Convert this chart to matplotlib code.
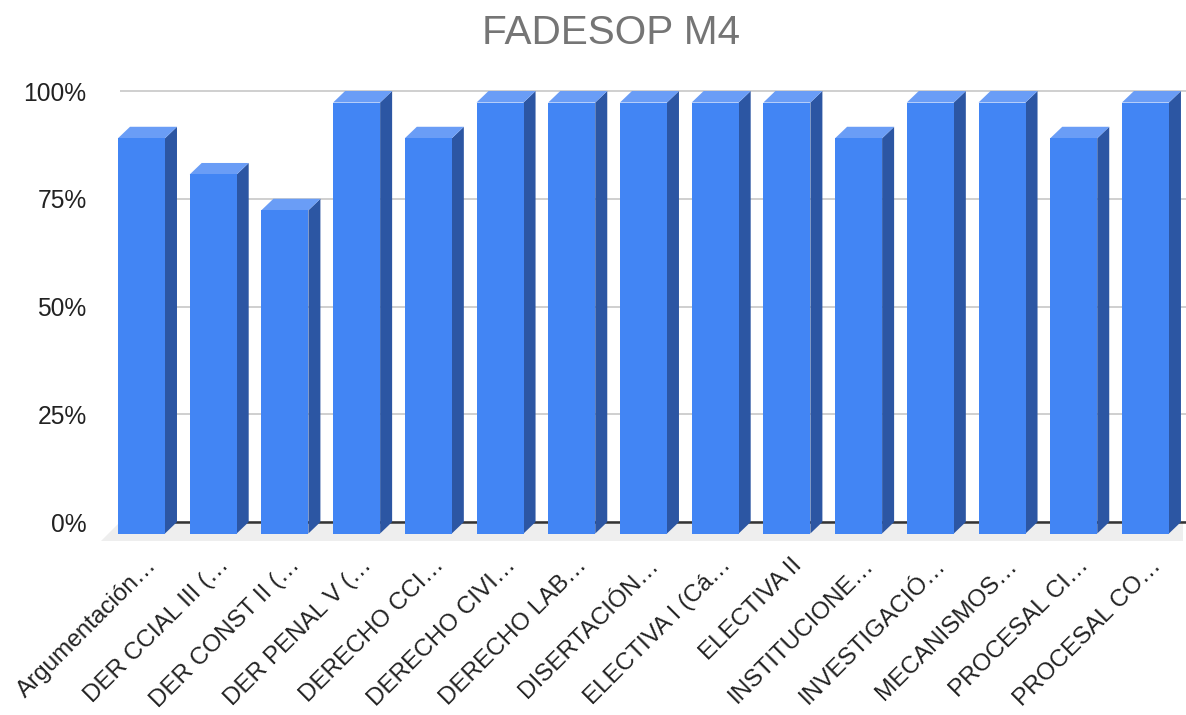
import matplotlib
matplotlib.use("Agg")
import matplotlib.pyplot as plt
from matplotlib.patches import Polygon
from matplotlib.ticker import PercentFormatter

# ---- data ----
categories = ["Argumentación…", "DER CCIAL III (…", "DER CONST II (…", "DER PENAL V (…",
              "DERECHO CCI…", "DERECHO CIVI…", "DERECHO LAB…", "DISERTACIÓN…",
              "ELECTIVA I (Cá…", "ELECTIVA II", "INSTITUCIONE…", "INVESTIGACIÓ…",
              "MECANISMOS…", "PROCESAL CI…", "PROCESAL CO…"]
values = [0.917, 0.833, 0.75, 1.0, 0.917, 1.0, 1.0, 1.0, 1.0, 1.0, 0.917, 1.0, 1.0, 0.917, 1.0]
yticks = [0, 0.25, 0.5, 0.75, 1.0]
title = "FADESOP M4"

# ---- style ----
FRONT = "#4285F4"
SIDE = "#2C56A3"
TOP = "#6A9DF6"
FLOOR = "#EEEEEE"
W, H, DPI = 1186, 715, 100
plt.rcParams['font.family'] = ['Liberation Sans', 'DejaVu Sans']

fig = plt.figure(figsize=(W / DPI, H / DPI), dpi=DPI)
# axes in pixel layout
ax_l, ax_r = 120, 1186
ax_t, ax_b = 78.07, 543.55
ax = fig.add_axes([ax_l / W, (H - ax_b) / H, (ax_r - ax_l) / W, (ax_b - ax_t) / H])
ax.set_xlim(-0.467, 14.398)
ax.set_ylim(-0.05, 1.03)

# pixel -> data conversions for depth offsets
p0 = ax.transData.transform((0, 0))
p1 = ax.transData.transform((1, 1))
ppx, ppy = p1[0] - p0[0], p1[1] - p0[1]
dx, dy = 12 / ppx, 11.5 / ppy
fdx, fdy = 19 / ppx, 19 / ppy
bw = 47 / ppx

# floor
xl0, xl1 = ax.get_xlim()
xr = xl1 - 3 / ppx
floor = Polygon([(xl0, 0), (xr, 0), (xr, -fdy), (xl0 - fdx, -fdy)], closed=True,
                facecolor=FLOOR, edgecolor='none', zorder=1, clip_on=False)
ax.add_patch(floor)

# grid
ax.set_yticks(yticks)
ax.yaxis.set_major_formatter(PercentFormatter(1.0, decimals=0))
ax.grid(axis='y', color='#CCCCCC', linewidth=1.3, zorder=0)
ax.axhline(0, color='#333333', linewidth=1.8, zorder=2)

# 3D bars
for i, v in enumerate(values):
    bx0, bx1 = i - bw / 2, i + bw / 2
    fx0, fx1 = bx0 - dx, bx1 - dx
    side = Polygon([(bx1, 0), (bx1, v), (fx1, v - dy), (fx1, -dy)], closed=True,
                   facecolor=SIDE, edgecolor='none', zorder=3, clip_on=False)
    top = Polygon([(bx0, v), (bx1, v), (fx1, v - dy), (fx0, v - dy)], closed=True,
                  facecolor=TOP, edgecolor='none', zorder=3, clip_on=False)
    ax.add_patch(side)
    ax.add_patch(top)
ax.bar([i - dx for i in range(len(values))], values, width=bw, bottom=-dy,
       color=FRONT, zorder=4, clip_on=False)

for s in ax.spines.values():
    s.set_visible(False)

ax.set_xticks(range(len(categories)))
ax.set_xticklabels(categories, rotation=45, ha='right', va='center',
                   rotation_mode='anchor', fontsize=17.5, color='#222222')
ax.tick_params(axis='x', length=0, pad=13.5)
ax.tick_params(axis='y', length=0, pad=24, labelsize=17.7, labelcolor='#222222')

fig.text(611 / W, 1 - 44 / H, title, ha='center', va='baseline',
         fontsize=29.2, color='#757575')

fig.savefig("out.png", dpi=DPI)
